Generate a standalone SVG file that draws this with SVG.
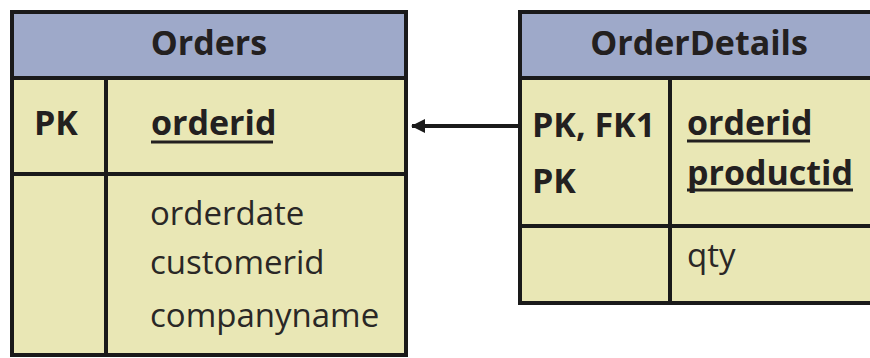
<svg xmlns="http://www.w3.org/2000/svg" width="870" height="358" viewBox="0 0 870 358">
<defs>
<style>
.hdr{fill:#9ea9c9}
.body{fill:#e9e7b5}
.ln{stroke:#1a1a1a;stroke-width:4;fill:none}
.t{font-family:"Open Sans","Noto Sans",sans-serif;font-size:33px;fill:#2a2726}
.b{font-weight:bold;font-size:34px;fill:#232020}
.ul{stroke:#232020;stroke-width:3}
</style>
<marker id="ah" markerWidth="14" markerHeight="14" refX="13" refY="7" orient="auto" markerUnits="userSpaceOnUse">
<path d="M0,0 L14,7 L0,14 Z" fill="#1a1a1a"/>
</marker>
</defs>
<rect width="870" height="358" fill="#ffffff"/>
<g id="orders">
<rect class="hdr" x="12" y="12" width="394" height="66"/>
<rect class="body" x="12" y="78" width="394" height="277"/>
<rect class="ln" x="12" y="12" width="394" height="343"/>
<line class="ln" x1="12" y1="78" x2="406" y2="78"/>
<line class="ln" x1="12" y1="174" x2="406" y2="174"/>
<line class="ln" x1="106" y1="78" x2="106" y2="355"/>
<text class="t b" x="209" y="55" text-anchor="middle">Orders</text>
<text class="t b" x="34" y="135">PK</text>
<text class="t b" x="151" y="135">orderid</text>
<line class="ul" x1="151" y1="142" x2="273" y2="142"/>
<text class="t" x="150" y="225">orderdate</text>
<text class="t" x="150" y="274">customerid</text>
<text class="t" x="150" y="327">companyname</text>
</g>
<g id="orderdetails">
<rect class="hdr" x="520" y="12" width="360" height="66"/>
<rect class="body" x="520" y="78" width="360" height="225"/>
<rect class="ln" x="520" y="12" width="360" height="291"/>
<line class="ln" x1="520" y1="78" x2="880" y2="78"/>
<line class="ln" x1="520" y1="226" x2="880" y2="226"/>
<line class="ln" x1="670" y1="78" x2="670" y2="303"/>
<text class="t b" x="699" y="55" text-anchor="middle">OrderDetails</text>
<text class="t b" x="532" y="137">PK, FK1</text>
<text class="t b" x="532" y="193">PK</text>
<text class="t b" x="687" y="135">orderid</text>
<line class="ul" x1="687" y1="141" x2="810" y2="141"/>
<text class="t b" x="687" y="185">productid</text>
<line class="ul" x1="687" y1="190" x2="853" y2="190"/>
<text class="t" x="687" y="267">qty</text>
</g>
<g id="connectors">
<line x1="518" y1="126" x2="412" y2="126" stroke="#1a1a1a" stroke-width="4" marker-end="url(#ah)"/>
</g>
</svg>
